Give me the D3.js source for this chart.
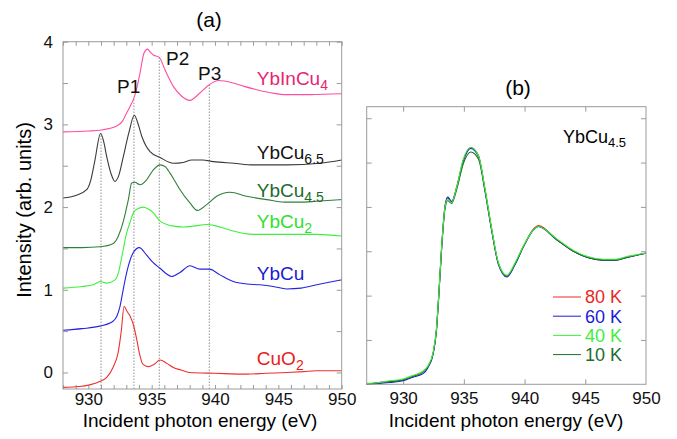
<!DOCTYPE html>
<html>
<head>
<meta charset="utf-8">
<script src="https://cdnjs.cloudflare.com/ajax/libs/d3/7.8.5/d3.min.js"></script>
<style>
  body { margin: 0; background: #fff; }
  svg { display: block; font-family: "Liberation Sans", Arial, Helvetica, sans-serif; }
</style>
</head>
<body>
<div class="chart"></div>
<script>

// ---- panel (a) spectra, offset vertically ----
const eCuO2 = [928.0, 929.3, 930.1, 930.9, 931.45, 931.95, 932.35, 932.6, 932.82, 933.05, 933.3, 933.55, 933.82, 934.05, 934.3, 934.73, 935.2, 935.66, 936.2, 936.71, 937.3, 938.0, 940.0, 942.5, 944.0, 945.7, 947.0, 948.0, 950.0];
const yCuO2 = [-0.18, -0.17, -0.15, -0.11, -0.06, 0.06, 0.24, 0.50, 0.80, 0.74, 0.68, 0.58, 0.40, 0.22, 0.10, 0.07, 0.10, 0.15, 0.11, 0.06, 0.03, 0.0, -0.01, -0.02, -0.01, 0.0, 0.01, 0.02, 0.02];

const eYbCu = [928.0, 929.5, 930.9, 931.95, 932.25, 932.5, 932.75, 933.03, 933.3, 933.55, 934.02, 934.6, 935.1, 935.66, 936.1, 936.58, 937.24, 938.02, 938.81, 939.55, 940.39, 941.44, 942.5, 943.55, 944.6, 945.66, 946.8, 948.03, 949.0, 950.0];
const yYbCu = [0.51, 0.53, 0.56, 0.62, 0.68, 0.80, 1.00, 1.21, 1.36, 1.45, 1.51, 1.42, 1.33, 1.26, 1.20, 1.16, 1.21, 1.29, 1.25, 1.25, 1.18, 1.10, 1.07, 1.06, 1.04, 1.01, 1.02, 1.06, 1.09, 1.12];

const eYbCu2 = [928.0, 929.5, 930.4, 930.92, 931.45, 932.1, 932.4, 932.63, 933.03, 933.3, 933.55, 933.9, 934.34, 934.8, 935.13, 935.66, 936.2, 936.71, 937.5, 938.29, 939.34, 940.13, 940.8, 941.44, 942.3, 943.02, 945.66, 948.03, 950.0];
const yYbCu2 = [1.02, 1.04, 1.06, 1.10, 1.08, 1.12, 1.22, 1.39, 1.69, 1.82, 1.93, 1.98, 2.00, 1.97, 1.93, 1.83, 1.79, 1.77, 1.76, 1.77, 1.79, 1.77, 1.74, 1.71, 1.68, 1.67, 1.67, 1.67, 1.65];

const eYbCu45 = [928.0, 929.5, 930.92, 931.97, 932.37, 932.75, 933.0, 933.16, 933.42, 933.68, 934.08, 934.6, 935.13, 935.66, 936.05, 936.45, 936.85, 937.24, 938.02, 938.6, 939.34, 940.13, 941.18, 942.5, 944.08, 945.5, 946.71, 948.0, 950.0];
const yYbCu45 = [1.51, 1.51, 1.52, 1.56, 1.65, 1.82, 1.98, 2.09, 2.29, 2.30, 2.27, 2.33, 2.45, 2.51, 2.49, 2.41, 2.31, 2.21, 2.05, 1.96, 2.03, 2.13, 2.18, 2.13, 2.09, 2.06, 2.06, 2.07, 2.09];

const eYbCu65 = [928.0, 929.0, 929.87, 930.2, 930.5, 930.97, 931.2, 931.45, 931.8, 932.1, 932.4, 932.76, 933.2, 933.63, 933.9, 934.21, 934.87, 935.66, 936.71, 937.5, 938.16, 939.0, 939.86, 941.5, 943.02, 945.66, 948.29, 950.0];
const yYbCu65 = [2.11, 2.14, 2.21, 2.33, 2.55, 2.89, 2.80, 2.61, 2.40, 2.31, 2.38, 2.61, 2.90, 3.11, 3.02, 2.86, 2.67, 2.60, 2.53, 2.54, 2.57, 2.57, 2.55, 2.53, 2.51, 2.51, 2.53, 2.57];

const eYbInCu4 = [928.0, 930.0, 930.92, 932.24, 932.7, 933.03, 933.3, 933.55, 933.8, 934.08, 934.39, 934.68, 934.9, 935.13, 935.6, 936.05, 936.71, 937.37, 938.02, 938.81, 939.55, 940.26, 941.44, 942.3, 943.29, 944.5, 945.66, 947.5, 950.0];
const yYbInCu4 = [2.91, 2.92, 2.93, 2.98, 3.04, 3.14, 3.22, 3.30, 3.42, 3.62, 3.86, 3.91, 3.87, 3.84, 3.81, 3.66, 3.46, 3.34, 3.29, 3.38, 3.48, 3.53, 3.50, 3.46, 3.42, 3.38, 3.36, 3.36, 3.37];

const namesA = ['YbInCu', 'YbCu', 'YbCu', 'YbCu', 'YbCu', 'CuO'];
const subsA = ['4', '6.5', '4.5', '2', '', '2'];

// dotted guide lines (eV) and their upper ends
const guideE = [931.0, 933.6, 935.6, 939.55];
const guideTop = [2.89, 3.30, 3.81, 3.48];
const peakNames = ['P1', 'P2', 'P3'];

const ticksA_y = [0, 1, 2, 3, 4];
const ticksX = [930, 935, 940, 945, 950];

// ---- panel (b) YbCu4.5 at four temperatures ----
const eB = [927.0, 928.0, 928.9, 930.0, 930.8, 931.65, 932.05, 932.47, 932.74, 932.93, 933.18, 933.45, 933.67, 934.0, 934.42, 934.96, 935.57, 936.2, 936.75, 937.3, 937.85, 938.54, 939.22, 939.9, 940.73, 941.14, 942.66, 944.03, 945.2, 946.5, 947.5, 948.4, 950.0];
const y80K = [0.0, 0.02, 0.03, 0.05, 0.09, 0.14, 0.20, 0.35, 0.61, 0.99, 1.56, 2.00, 2.10, 2.06, 2.23, 2.53, 2.67, 2.58, 2.19, 1.74, 1.36, 1.22, 1.36, 1.55, 1.75, 1.79, 1.63, 1.50, 1.43, 1.40, 1.40, 1.43, 1.48];
const y60K = [0.0, 0.01, 0.02, 0.04, 0.08, 0.12, 0.19, 0.34, 0.60, 0.99, 1.56, 2.01, 2.11, 2.06, 2.22, 2.52, 2.66, 2.57, 2.18, 1.73, 1.35, 1.21, 1.35, 1.55, 1.74, 1.78, 1.63, 1.50, 1.43, 1.40, 1.40, 1.43, 1.48];
const y40K = [0.01, 0.02, 0.04, 0.06, 0.10, 0.15, 0.21, 0.36, 0.62, 1.00, 1.57, 2.00, 2.09, 2.05, 2.23, 2.54, 2.67, 2.58, 2.20, 1.75, 1.37, 1.23, 1.37, 1.56, 1.74, 1.78, 1.64, 1.51, 1.44, 1.41, 1.41, 1.44, 1.48];
const y10K = [0.0, 0.02, 0.03, 0.05, 0.09, 0.14, 0.20, 0.35, 0.61, 0.98, 1.55, 1.98, 2.07, 2.04, 2.20, 2.49, 2.62, 2.54, 2.17, 1.73, 1.36, 1.22, 1.36, 1.55, 1.74, 1.78, 1.63, 1.50, 1.43, 1.40, 1.40, 1.43, 1.48];
const tempLabels = ['80 K', '60 K', '40 K', '10 K'];
const ticksB_y = [0.5, 1.0, 1.5, 2.0, 2.5, 3.0];


const svg = d3.select('.chart')
   .append('svg')
   .attr('width', 677)
   .attr('height', 439);

const frameColor = '#9a9a9a';

// ================= panel (a) =================
const xA = d3.scaleLinear().domain([928, 950]).range([63, 341.7]);
const yA = d3.scaleLinear().domain([-0.2, 4]).range([389, 41.7]);

const seriesA = [
   {e: eYbInCu4, y: yYbInCu4, line: '#ff4da0', text: '#e8246e', ly: 3.48},
   {e: eYbCu65, y: yYbCu65, line: '#3a3a3a', text: '#111', ly: 2.58},
   {e: eYbCu45, y: yYbCu45, line: '#2f7f3c', text: '#1d6b2b', ly: 2.12},
   {e: eYbCu2, y: yYbCu2, line: '#3ef03e', text: '#2fe02f', ly: 1.75},
   {e: eYbCu, y: yYbCu, line: '#2424e0', text: '#1a1ad0', ly: 1.12},
   {e: eCuO2, y: yCuO2, line: '#ee3030', text: '#e82020', ly: 0.09}
];

const gA = svg.append('g');

// inward ticks
gA.append('g').attr('transform', `translate(0,${yA.range()[0]})`)
   .call(d3.axisBottom(xA).tickValues(d3.range(928, 951)).tickSizeInner(-4).tickSizeOuter(0).tickFormat(''));
gA.append('g').attr('transform', `translate(0,${yA.range()[1]})`)
   .call(d3.axisTop(xA).tickValues(d3.range(928, 951)).tickSizeInner(-4).tickSizeOuter(0).tickFormat(''));
gA.append('g').attr('transform', `translate(${xA.range()[0]},0)`)
   .call(d3.axisLeft(yA).tickValues(d3.range(0, 4.01, 0.5)).tickSizeInner(-5).tickSizeOuter(0).tickFormat(''));
gA.append('g').attr('transform', `translate(${xA.range()[1]},0)`)
   .call(d3.axisRight(yA).tickValues(d3.range(0, 4.01, 0.5)).tickSizeInner(-5).tickSizeOuter(0).tickFormat(''));

// tick labels
gA.append('g').attr('transform', `translate(0,${yA.range()[0]})`)
   .call(d3.axisBottom(xA).tickValues(ticksX).tickSize(0).tickPadding(4).tickFormat(d3.format('d')))
   .classed('lab', true);
gA.append('g').attr('transform', `translate(${xA.range()[0]},0)`)
   .call(d3.axisLeft(yA).tickValues(ticksA_y).tickSize(0).tickPadding(10).tickFormat(d3.format('d')))
   .classed('lab', true);

// dotted guides
gA.selectAll('line.guide')
   .data(guideE)
   .enter()
   .append('line')
      .classed('guide', true)
      .attr('x1', d => xA(d)).attr('x2', d => xA(d))
      .attr('y1', yA.range()[0])
      .attr('y2', (d, i) => yA(guideTop[i]))
      .attr('stroke', '#777')
      .attr('stroke-width', 0.8)
      .attr('stroke-dasharray', '1.5,1.5');

const lineA = d3.line()
   .x(d => xA(d[0]))
   .y(d => yA(d[1]))
   .curve(d3.curveMonotoneX);

seriesA.forEach(function(s){
   gA.append('path')
      .datum(d3.zip(s.e, s.y))
      .attr('d', lineA)
      .attr('fill', 'none')
      .attr('stroke', s.line)
      .attr('stroke-width', 1.1);
});

// series labels
seriesA.forEach(function(s, i){
   const t = gA.append('text')
      .attr('x', xA(943.3))
      .attr('y', yA(s.ly))
      .attr('fill', s.text)
      .style('font-size', '19px')
      .text(namesA[i]);
   if (subsA[i] !== '') {
      t.append('tspan')
         .attr('dy', 5)
         .style('font-size', '14px')
         .text(subsA[i]);
   }
});

// P1..P3
const peakPos = [[117, 93], [166, 65], [198, 80]];
gA.selectAll('text.peak')
   .data(peakNames)
   .enter()
   .append('text')
      .classed('peak', true)
      .attr('x', (d, i) => peakPos[i][0])
      .attr('y', (d, i) => peakPos[i][1])
      .style('font-size', '19px')
      .attr('fill', '#111')
      .text(d => d);

gA.append('rect')
   .attr('x', xA.range()[0]).attr('y', yA.range()[1])
   .attr('width', xA.range()[1] - xA.range()[0])
   .attr('height', yA.range()[0] - yA.range()[1])
   .attr('fill', 'none')
   .attr('stroke', frameColor);

gA.append('text')
   .attr('x', 209).attr('y', 27)
   .attr('text-anchor', 'middle')
   .style('font-size', '21px')
   .text('(a)');

gA.append('text')
   .attr('x', 200).attr('y', 427)
   .attr('text-anchor', 'middle')
   .style('font-size', '19px')
   .text('Incident photon energy (eV)');

gA.append('text')
   .attr('transform', 'translate(31,210) rotate(-90)')
   .attr('text-anchor', 'middle')
   .style('font-size', '20px')
   .text('Intensity (arb. units)');


// ================= panel (b) =================
const xB = d3.scaleLinear().domain([927, 950]).range([366.7, 646]);
const yB = d3.scaleLinear().domain([0, 3.13]).range([384.3, 106.7]);

const seriesB = [
   {y: y80K, color: '#e82828'},
   {y: y60K, color: '#1c1cd8'},
   {y: y10K, color: '#1d6e2b'},
   {y: y40K, color: '#3cf03c'}
];
const legendColors = ['#e82828', '#1c1cd8', '#3cf03c', '#1d6e2b'];

const gB = svg.append('g');

gB.append('g').attr('transform', `translate(0,${yB.range()[0]})`)
   .call(d3.axisBottom(xB).tickValues([930, 935, 940, 945]).tickSizeInner(-5).tickSizeOuter(0).tickFormat(''));
gB.append('g').attr('transform', `translate(0,${yB.range()[1]})`)
   .call(d3.axisTop(xB).tickValues([930, 935, 940, 945]).tickSizeInner(-5).tickSizeOuter(0).tickFormat(''));
gB.append('g').attr('transform', `translate(${xB.range()[0]},0)`)
   .call(d3.axisLeft(yB).tickValues(ticksB_y).tickSizeInner(-5).tickSizeOuter(0).tickFormat(''));
gB.append('g').attr('transform', `translate(${xB.range()[1]},0)`)
   .call(d3.axisRight(yB).tickValues(ticksB_y).tickSizeInner(-5).tickSizeOuter(0).tickFormat(''));

gB.append('g').attr('transform', `translate(0,${yB.range()[0]})`)
   .call(d3.axisBottom(xB).tickValues(ticksX).tickSize(0).tickPadding(8).tickFormat(d3.format('d')))
   .classed('lab', true);

const lineB = d3.line()
   .x(d => xB(d[0]))
   .y(d => yB(d[1]))
   .curve(d3.curveMonotoneX);

seriesB.forEach(function(s){
   gB.append('path')
      .datum(d3.zip(eB, s.y))
      .attr('d', lineB)
      .attr('fill', 'none')
      .attr('stroke', s.color)
      .attr('stroke-width', 1.1);
});

gB.append('rect')
   .attr('x', xB.range()[0]).attr('y', yB.range()[1])
   .attr('width', xB.range()[1] - xB.range()[0])
   .attr('height', yB.range()[0] - yB.range()[1])
   .attr('fill', 'none')
   .attr('stroke', frameColor);

// legend
const leg = gB.selectAll('g.leg')
   .data(tempLabels)
   .enter()
   .append('g')
      .classed('leg', true)
      .attr('transform', (d, i) => `translate(553,${297 + i * 19.2})`);

leg.append('line')
   .attr('x1', 0).attr('x2', 28)
   .attr('stroke', (d, i) => legendColors[i])
   .attr('stroke-width', 1);

leg.append('text')
   .attr('x', 32).attr('dy', '0.36em')
   .attr('fill', (d, i) => legendColors[i])
   .style('font-size', '18px')
   .text(d => d);

const lab = gB.append('text')
   .attr('x', 563).attr('y', 143)
   .style('font-size', '18px')
   .text('YbCu');
lab.append('tspan').attr('dy', 4).style('font-size', '13px').text('4.5');

gB.append('text')
   .attr('x', 518).attr('y', 95)
   .attr('text-anchor', 'middle')
   .style('font-size', '21px')
   .text('(b)');

gB.append('text')
   .attr('x', 506).attr('y', 427)
   .attr('text-anchor', 'middle')
   .style('font-size', '19px')
   .text('Incident photon energy (eV)');

// axis styling
svg.selectAll('.domain').remove();
svg.selectAll('.tick line').attr('stroke', frameColor);
svg.selectAll('.lab text').style('font-size', '17px').attr('fill', '#111').style('font-family', null);

</script>
</body>
</html>
